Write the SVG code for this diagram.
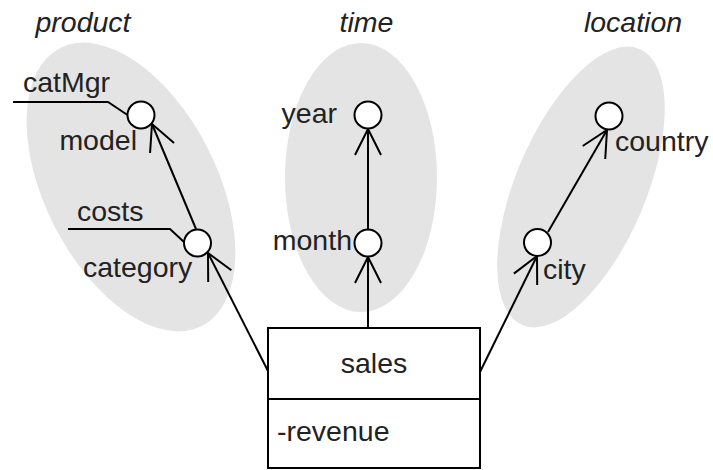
<svg xmlns="http://www.w3.org/2000/svg" width="713" height="470" viewBox="0 0 713 470">
<style>
.dim{fill:#e4e4e4;stroke:none}
.lvl{fill:#fff;stroke:#000;stroke-width:2}
.t{font-family:"Liberation Sans",Arial,sans-serif;font-size:28.5px;fill:#222}
.ti{font-family:"Liberation Sans",Arial,sans-serif;font-size:28.5px;font-style:italic;fill:#222}
.ln{fill:none;stroke:#000;stroke-width:2}
.box{fill:#fff;stroke:#000;stroke-width:2}
</style>
<defs>
<marker id="open" markerUnits="userSpaceOnUse" markerWidth="40" markerHeight="40" viewBox="-30 -20 40 40" refX="0" refY="0" orient="auto" overflow="visible">
<path d="M -26 -13 L 0 0 L -26 13" fill="none" stroke="#000" stroke-width="2"/>
</marker>
</defs>
<g id="dim-product">
<ellipse class="dim" cx="131" cy="187" rx="86" ry="156" transform="rotate(-27 131 187)"/>
<text class="ti" x="83" y="32" text-anchor="middle">product</text>
</g>
<g id="dim-time">
<ellipse class="dim" cx="361" cy="177.5" rx="76" ry="134.5"/>
<text class="ti" x="366.5" y="32" text-anchor="middle">time</text>
</g>
<g id="dim-location">
<ellipse class="dim" cx="581" cy="187" rx="65" ry="150" transform="rotate(23 581 187)"/>
<text class="ti" x="633" y="32" text-anchor="middle">location</text>
</g>
<g id="connectors">
<line class="ln" x1="368" y1="328" x2="368" y2="257" marker-end="url(#open)"/>
<line class="ln" x1="368" y1="229" x2="368" y2="129" marker-end="url(#open)"/>
<line class="ln" x1="268" y1="371" x2="208" y2="253" marker-end="url(#open)"/>
<line class="ln" x1="196" y1="229" x2="152" y2="124" marker-end="url(#open)"/>
<line class="ln" x1="480" y1="372" x2="537" y2="256" marker-end="url(#open)"/>
<line class="ln" x1="548" y1="232" x2="607" y2="130" marker-end="url(#open)"/>
<polyline class="ln" points="13,102 108,102 127.5,115"/>
<polyline class="ln" points="68,229 170,229 184,242"/>
</g>
<g id="model">
<circle class="lvl" cx="141" cy="115" r="13.5"/>
<text class="t" x="137" y="150" text-anchor="end">model</text>
</g>
<g id="catMgr">
<text class="t" x="23" y="92">catMgr</text>
</g>
<g id="category">
<circle class="lvl" cx="197.5" cy="243" r="13.5"/>
<text class="t" x="83" y="277">category</text>
</g>
<g id="costs">
<text class="t" x="77" y="221">costs</text>
</g>
<g id="year">
<circle class="lvl" cx="368" cy="115" r="13.5"/>
<text class="t" x="337" y="123" text-anchor="end">year</text>
</g>
<g id="month">
<circle class="lvl" cx="368" cy="243" r="13.5"/>
<text class="t" x="352" y="250" text-anchor="end">month</text>
</g>
<g id="country">
<circle class="lvl" cx="609" cy="116" r="13.5"/>
<text class="t" x="615" y="151">country</text>
</g>
<g id="city">
<circle class="lvl" cx="537.5" cy="242.5" r="13.5"/>
<text class="t" x="543" y="279">city</text>
</g>
<g id="sales">
<rect class="box" x="268" y="328" width="212" height="140"/>
<line class="ln" x1="268" y1="399" x2="480" y2="399"/>
<text class="t" x="374" y="373" text-anchor="middle">sales</text>
<text class="t" x="277" y="441">-revenue</text>
</g>
</svg>
